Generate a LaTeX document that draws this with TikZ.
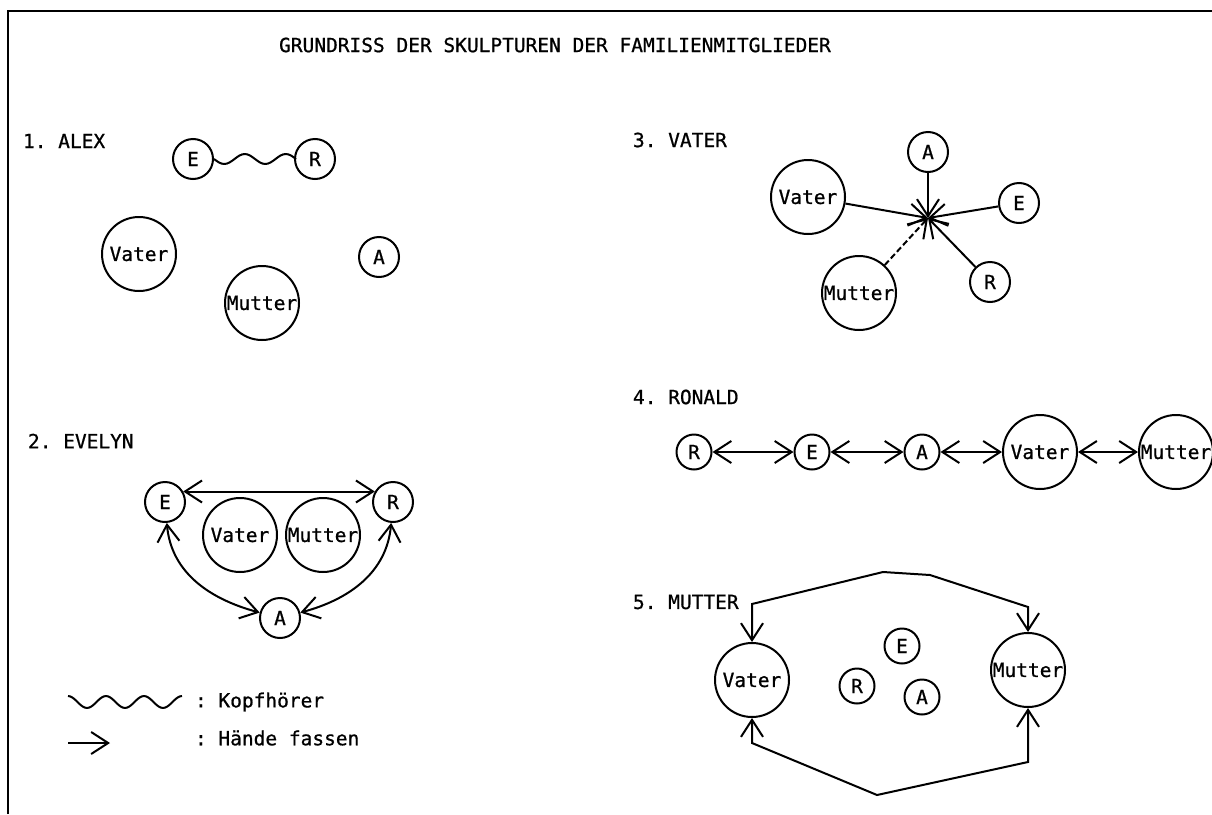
\documentclass[tikz,border=0pt]{standalone}
\usepackage{fontspec}
\setmonofont[FakeBold=0.8]{DejaVu Sans Mono}
\usetikzlibrary{arrows.meta}
\colorlet{ink colour}{black}
\tikzset{
    % Long open barbs, as the plotter drew them
    >={Straight Barb[length=17pt, width=22pt]},
%
    % Every label is lettered in the same typewriter face
    every node/.style={font=\ttfamily\fontsize{19.5}{22}\selectfont},
}

\begin{document}
\begin{tikzpicture}[
    x=1pt, y=-1pt,
    line width=2pt, color=ink colour,
    big/.style={draw, circle, inner sep=0, minimum size=74pt},
    small/.style={draw, circle, inner sep=0, minimum size=40pt},
    tiny/.style={draw, circle, inner sep=0, minimum size=35pt},
    heading/.style={anchor=west, inner sep=0},
    frame/.style={line width=2pt},
    hands/.style={->},
    both hands/.style={<->},
    phones/.style={line join=round},
]

\useasboundingbox (0,0) rectangle (1212,814);
\draw [frame] (8,814) -- (8,11) -- (1212,11);

\node (title) at (555,45) {GRUNDRISS DER SKULPTUREN DER FAMILIENMITGLIEDER};

% 1. Alex
\path
    (22,141) node (alex) [heading] {1. ALEX}
    (193,159) node (a e) [small] {E}
    (315,159) node (a r) [small] {R}
    (139,254) node (a vater) [big] {Vater}
    (262,303) node (a mutter) [big] {Mutter}
    (379,257) node (a a) [small] {A};
% headphone cable: two full waves from E to R
\draw [phones] (a e.east)
    sin ++(10.25,5) cos ++(10.25,-5) sin ++(10.25,-5) cos ++(10.25,5)
    sin ++(10.25,5) cos ++(10.25,-5) sin ++(10.25,-5) cos ++(10.25,5);

% 2. Evelyn
\path
    (27,441) node (evelyn) [heading] {2. EVELYN}
    (165,502) node (e e) [small] {E}
    (393,502) node (e r) [small] {R}
    (240,535) node (e vater) [big] {Vater}
    (323,535) node (e mutter) [big] {Mutter}
    (280,618) node (e a) [small] {A};
\draw [both hands] (e e.30) -- (e r.150);
\draw [both hands] (e e) to [out=-85, in=165] (e a);
\draw [both hands] (e r) to [out=-95, in=15] (e a);

% Legend
\path
    (68,696) coordinate (wave start)
    (194,702) node (phones label) [heading] {: Kopfhörer}
    (68,743) coordinate (hand start)
    (110,743) coordinate (hand end)
    (194,738) node (hands label) [heading] {: Hände fassen};
\draw [phones] (wave start)
    cos ++(9.5,6) sin ++(9.5,6) cos ++(9.5,-6) sin ++(9.5,-6)
    cos ++(9.5,6) sin ++(9.5,6) cos ++(9.5,-6) sin ++(9.5,-6)
    cos ++(9.5,6) sin ++(9.5,6) cos ++(9.5,-6) sin ++(9.5,-6);
\draw [hands] (hand start) -- (hand end);

% 3. Vater
\path
    (632,140) node (vater) [heading] {3. VATER}
    (928,152) node (v a) [small] {A}
    (808,197) node (v vater) [big] {Vater}
    (1019,203) node (v e) [small] {E}
    (859,293) node (v mutter) [big] {Mutter}
    (990,282) node (v r) [small] {R}
    (928,218) coordinate (hub);
\draw [hands] (v a) -- (hub);
\draw [hands] (v vater) -- (hub);
\draw [hands] (v e) -- (hub);
\draw [hands] (v r) -- (hub);
\draw [hands, dash pattern=on 6pt off 3pt] (v mutter) -- (hub);

% 4. Ronald
\path
    (632,397) node (ronald) [heading] {4. RONALD}
    (694,452) node (r r) [tiny] {R}
    (812,452) node (r e) [tiny] {E}
    (922,452) node (r a) [tiny] {A}
    (1040,452) node (r vater) [big] {Vater}
    (1176,452) node (r mutter) [big] {Mutter};
\draw [both hands] (r r) -- (r e);
\draw [both hands] (r e) -- (r a);
\draw [both hands] (r a) -- (r vater);
\draw [both hands] (r vater) -- (r mutter);

% 5. Mutter
\path
    (632,602) node (mutter) [heading] {5. MUTTER}
    (752,680) node (m vater) [big] {Vater}
    (1028,670) node (m mutter) [big] {Mutter}
    (902,646) node (m e) [tiny] {E}
    (857,686) node (m r) [tiny] {R}
    (922,697) node (m a) [tiny] {A};
\draw [both hands] (m vater.north) -- ++(0,-38) -- (883,572) -- (930,575)
    -- (1028,607) -- (m mutter.north);
\draw [both hands] (m vater.south) -- ++(0,25) -- (877,795) -- (1028,762)
    -- (m mutter.south);

\end{tikzpicture}
\end{document}
